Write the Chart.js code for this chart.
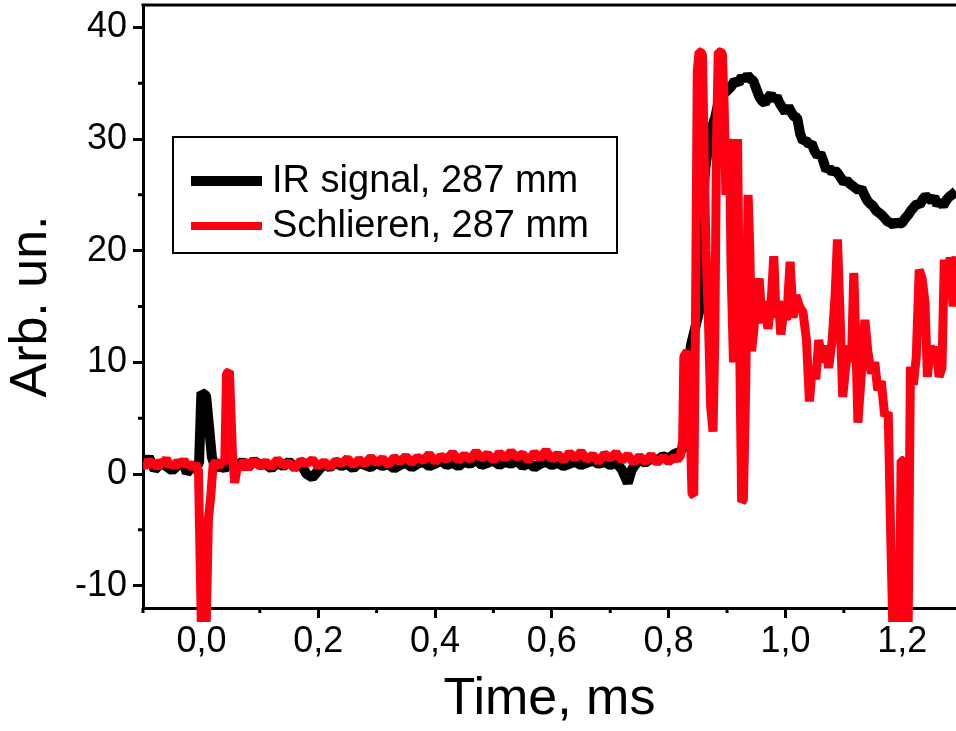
<!DOCTYPE html>
<html>
<head>
<meta charset="utf-8">
<script src="https://cdn.jsdelivr.net/npm/chart.js@4"></script>
<style>
  html, body { margin: 0; padding: 0; background: #fff; }
</style>
</head>
<body>
<canvas id="chart" width="956" height="731"></canvas>
<script>
// === Data ===
const seriesLabels = ["IR signal, 287 mm", "Schlieren, 287 mm"];
const seriesColors = ["#000000", "#ff0012"];

const irTime = [
  -0.1, -0.09, -0.08, -0.07, -0.06, -0.05, -0.04, -0.03, -0.025, -0.02, -0.01, -0.004,
  0.0, 0.008, 0.018, 0.025, 0.03, 0.04, 0.05, 0.06, 0.07, 0.08, 0.09,
  0.10, 0.11, 0.12, 0.13, 0.14, 0.15, 0.16, 0.17, 0.18, 0.19, 0.20, 0.21, 0.22, 0.23, 0.24,
  0.25, 0.26, 0.27, 0.28, 0.29, 0.30, 0.31, 0.32, 0.33, 0.34, 0.35, 0.36, 0.37, 0.38, 0.39,
  0.40, 0.41, 0.42, 0.43, 0.44, 0.45, 0.46, 0.47, 0.48, 0.49, 0.50, 0.51, 0.52, 0.53, 0.54,
  0.55, 0.56, 0.57, 0.58, 0.59, 0.60, 0.61, 0.62, 0.63, 0.64, 0.65, 0.66, 0.67, 0.68, 0.69,
  0.70, 0.71, 0.72, 0.73, 0.737, 0.745, 0.75, 0.76, 0.77, 0.78, 0.79, 0.80, 0.81, 0.82,
  0.828, 0.833, 0.838, 0.845, 0.852, 0.857, 0.862, 0.868, 0.874, 0.88, 0.886, 0.893, 0.90,
  0.907, 0.913, 0.92, 0.925, 0.93, 0.935, 0.94, 0.945, 0.95, 0.955, 0.96, 0.965, 0.97,
  0.975, 0.98, 0.985, 0.99, 0.995, 1.0, 1.005, 1.01, 1.015, 1.02, 1.025, 1.03, 1.035, 1.04,
  1.045, 1.05, 1.055, 1.06, 1.065, 1.07, 1.075, 1.08, 1.085, 1.09, 1.095, 1.10, 1.105, 1.11,
  1.115, 1.12, 1.125, 1.13, 1.135, 1.14, 1.145, 1.15, 1.155, 1.16, 1.165, 1.17, 1.175, 1.18,
  1.185, 1.19, 1.195, 1.20, 1.205, 1.21, 1.215, 1.22, 1.225, 1.23, 1.235, 1.24, 1.245, 1.25,
  1.255, 1.26, 1.265, 1.27, 1.275, 1.28, 1.285, 1.292
];
const irSignal = [
  0.6, 1.5, 0.4, 0.9, 0.7, 0.3, 0.8, 0.9, 0.1, 0.4, 0.6, 1.0,
  7.3, 7.0, 1.5, 0.4, 0.8, 0.5, 1.0, 0.7, 1.1, 0.6, 1.2,
  0.8, 0.9, 0.5, 1.0, 0.7, 1.1, 0.6, 0.9, 0.0, -0.3, 0.3, 0.9, 0.6, 1.0, 0.7,
  0.9, 0.5, 1.0, 0.8, 0.6, 1.0, 0.7, 0.9, 0.5, 0.8, 1.0, 0.6, 0.9, 1.1, 0.7,
  0.9, 1.2, 0.8, 1.0, 0.7, 1.1, 0.9, 1.3, 0.8, 1.0, 1.2, 0.8, 1.1, 0.9, 1.2,
  0.7, 1.0, 0.6, 0.9, 1.1, 0.8, 1.0, 0.7, 0.9, 1.1, 0.8, 1.0, 1.2, 0.9, 1.1,
  0.8, 1.0, 0.4, -0.8, 0.4, 1.0, 1.3, 1.0, 1.4, 1.2, 1.6, 1.4, 1.8, 2.0,
  2.6, 8.0, 11.5, 13.0, 14.5, 22.0, 27.0, 29.5, 31.0, 32.0, 33.5, 34.0, 34.3,
  34.7, 35.2, 35.0, 35.6, 35.3, 35.7, 35.4, 35.2, 34.5, 33.8, 33.4, 33.2, 33.7,
  34.0, 33.5, 33.8, 33.2, 32.8, 32.4, 32.9, 32.4, 32.0, 31.9, 30.5, 29.8, 29.9, 29.5,
  29.6, 28.9, 28.5, 28.7, 28.0, 27.2, 27.4, 27.0, 27.2, 26.9, 26.5, 26.1, 26.3, 26.0,
  25.8, 25.6, 25.4, 25.6, 25.0, 24.5, 24.2, 24.0, 23.6, 23.4, 23.2, 22.9, 22.6, 22.5,
  22.3, 22.6, 22.4, 22.5, 22.9, 23.2, 23.6, 23.9, 24.2, 24.1, 24.6, 24.9, 24.7, 24.5,
  24.8, 24.1, 24.4, 24.0, 24.5, 24.8, 25.0, 25.3
];

const schTime = [
  -0.1, -0.095, -0.09, -0.085, -0.08, -0.075, -0.07, -0.065, -0.06, -0.055, -0.05, -0.045,
  -0.04, -0.035, -0.03, -0.025, -0.02, -0.015, -0.01, -0.005,
  0.0, 0.008, 0.012, 0.016, 0.02, 0.025, 0.03, 0.035, 0.04, 0.043, 0.048, 0.053, 0.057,
  0.062, 0.067, 0.072,
  0.08, 0.09, 0.10, 0.11, 0.12, 0.13, 0.14, 0.15, 0.16, 0.17, 0.18, 0.19, 0.20, 0.21,
  0.22, 0.23, 0.24, 0.25, 0.26, 0.27, 0.28, 0.29, 0.30, 0.31, 0.32, 0.33, 0.34, 0.35,
  0.36, 0.37, 0.38, 0.39, 0.40, 0.41, 0.42, 0.43, 0.44, 0.45, 0.46, 0.47, 0.48, 0.49,
  0.50, 0.51, 0.52, 0.53, 0.54, 0.55, 0.56, 0.57, 0.58, 0.59, 0.60, 0.61, 0.62, 0.63,
  0.64, 0.65, 0.66, 0.67, 0.68, 0.69, 0.70, 0.71, 0.72, 0.73, 0.74, 0.75, 0.76, 0.77,
  0.78, 0.79, 0.80, 0.81, 0.815, 0.82,
  0.824, 0.826, 0.832, 0.836, 0.84, 0.843, 0.846, 0.849, 0.852, 0.855, 0.858, 0.861, 0.864,
  0.868, 0.872, 0.876, 0.879, 0.882, 0.885, 0.889, 0.892, 0.895, 0.898, 0.90, 0.904, 0.907,
  0.911, 0.915, 0.918, 0.921, 0.925, 0.928, 0.932, 0.936, 0.939, 0.942, 0.946, 0.95,
  0.955, 0.96, 0.965, 0.97, 0.975, 0.98, 0.984, 0.988, 0.992, 0.997, 1.002, 1.008,
  1.013, 1.018, 1.024, 1.03, 1.036, 1.041, 1.046, 1.052, 1.057, 1.063, 1.069, 1.074,
  1.08, 1.085, 1.089, 1.093, 1.098, 1.103, 1.108, 1.113, 1.117, 1.121, 1.124, 1.13,
  1.136, 1.141, 1.147, 1.153, 1.158, 1.164, 1.17, 1.176, 1.18, 1.184, 1.19, 1.195,
  1.198, 1.202, 1.205, 1.21, 1.214, 1.219, 1.224, 1.229, 1.234, 1.239, 1.243, 1.248,
  1.253, 1.258, 1.263, 1.268, 1.272, 1.277, 1.282, 1.287, 1.292
];
const schSignal = [
  1.0, 0.6, 1.3, 0.8, 1.1, 0.5, 1.2, 0.9, 1.4, 0.7, 1.0, 0.6,
  1.2, 0.8, 1.3, 0.7, 1.0, 0.5, 0.9, 0.3,
  -14, -14, -4, -2.0, 0.8, 1.1, 0.6, 1.2, 0.9, 9.0, 9.2, 2.0, -0.8,
  0.9, 0.4, 1.2,
  0.5, 1.2, 0.7, 1.1, 0.6, 1.3, 0.8, 1.0, 0.5, 1.2, 0.9, 1.3, 0.7, 1.1,
  0.6, 1.2, 0.9, 1.4, 0.8, 1.3, 0.9, 1.5, 1.0, 1.4, 0.8, 1.5, 1.1, 1.6,
  1.0, 1.5, 1.2, 1.8, 1.1, 1.6, 1.3, 1.9, 1.2, 1.7, 1.3, 2.0, 1.4, 1.8,
  1.2, 1.9, 1.4, 2.0, 1.5, 1.8, 1.2, 1.9, 1.4, 2.1, 1.3, 1.8, 1.2, 1.9,
  1.4, 2.0, 1.3, 1.7, 1.1, 1.8, 1.4, 1.9, 1.2, 1.7, 1.0, 1.6, 1.1, 1.7,
  1.0, 1.5, 1.1, 1.5, 1.3, 1.6,
  3.0, 10.5, 11.0, 6.0, -1.8, -1.9, 14, 36, 37.8, 37.8, 37.5, 28, 20,
  14, 6, 3.8, 12, 30, 37.8, 37.8, 37.6, 33, 25, 29, 30, 18,
  10, 22, 30, 14, -2.5, -2.3, 8, 25, 20, 11, 13, 16,
  17.5, 13.5, 15.5, 13, 15, 19.5, 14, 15.5, 12.5, 14.5, 13.8, 19,
  14, 16, 15, 14.5, 12, 6.5, 9.5, 8.5, 12, 10, 11.5, 9.5,
  12, 16, 21, 15, 6.9, 9.5, 11.5, 10, 18, 11, 4.6, 9,
  13.8, 11, 9, 10, 7.5, 8.3, 5.2, 5.5, -5, -14, -14, -14,
  1.2, 1.2, -14, -14, 9.6, 8, 10.5, 18.3, 17.5, 15.3, 8.7, 11.5,
  10, 11.4, 8.7, 9.5, 19.2, 16, 19.4, 15, 19.5
];

const xTicks = [0.0, 0.2, 0.4, 0.6, 0.8, 1.0, 1.2];
const xMinorTicks = [-0.1, 0.1, 0.3, 0.5, 0.7, 0.9, 1.1];
const yTicks = [-10, 0, 10, 20, 30, 40];
const yMinorTicks = [-5, 5, 15, 25, 35];

const FONT = "'Liberation Sans', Arial, Helvetica, sans-serif";

// === Minor ticks, top frame line and legend box ===
const framePlugin = {
  id: "frame",
  beforeDatasetsDraw(chart) {
    const { ctx, chartArea, scales } = chart;
    ctx.save();
    ctx.strokeStyle = "#000";
    ctx.lineWidth = 3;
    ctx.beginPath();
    ctx.moveTo(chartArea.left - 1.5, chartArea.top);
    ctx.lineTo(chart.width, chartArea.top);
    ctx.stroke();
    ctx.beginPath();
    yMinorTicks.forEach(v => {
      const y = scales.y.getPixelForValue(v);
      ctx.moveTo(chartArea.left - 5, y);
      ctx.lineTo(chartArea.left, y);
    });
    xMinorTicks.forEach(v => {
      const x = scales.x.getPixelForValue(v);
      ctx.moveTo(x, chartArea.bottom);
      ctx.lineTo(x, chartArea.bottom + 5);
    });
    ctx.stroke();
    ctx.restore();
  },
  afterDraw(chart) {
    const ctx = chart.ctx;
    ctx.save();
    ctx.fillStyle = "#fff";
    ctx.fillRect(173, 137, 444, 116);
    ctx.strokeStyle = "#000";
    ctx.lineWidth = 2;
    ctx.strokeRect(173, 137, 444, 116);
    const rows = [181, 226];
    const widths = [10, 8];
    ctx.font = "38px " + FONT;
    ctx.textBaseline = "alphabetic";
    ctx.textAlign = "left";
    seriesLabels.forEach((label, i) => {
      ctx.strokeStyle = seriesColors[i];
      ctx.lineWidth = widths[i];
      ctx.beginPath();
      ctx.moveTo(191, rows[i]);
      ctx.lineTo(262, rows[i]);
      ctx.stroke();
      ctx.fillStyle = "#000";
      ctx.fillText(label, 272, rows[i] + 11);
    });
    ctx.restore();
  }
};

// === Chart ===
const ctx = document.getElementById("chart").getContext("2d");
new Chart(ctx, {
  type: "line",
  data: {
    datasets: [
      {
        label: seriesLabels[0],
        data: irTime.map((t, i) => ({ x: t, y: irSignal[i] })),
        borderColor: seriesColors[0],
        borderWidth: 10,
        borderJoinStyle: "bevel",
        pointRadius: 0,
        tension: 0,
        order: 2,
        clip: { left: 0, top: 0, right: 0, bottom: 14 }
      },
      {
        label: seriesLabels[1],
        data: schTime.map((t, i) => ({ x: t, y: schSignal[i] })),
        borderColor: seriesColors[1],
        borderWidth: 9,
        borderJoinStyle: "bevel",
        pointRadius: 0,
        tension: 0,
        order: 1,
        clip: { left: 0, top: 0, right: 0, bottom: 14 }
      }
    ]
  },
  options: {
    responsive: false,
    animation: false,
    events: [],
    layout: { padding: { top: 5, right: 0, bottom: 0, left: 0 }, autoPadding: false },
    plugins: { legend: { display: false }, tooltip: { enabled: false } },
    scales: {
      x: {
        type: "linear",
        min: -0.1,
        max: 1.292,
        afterBuildTicks: s => { s.ticks = xTicks.map(v => ({ value: v })); },
        afterFit: s => {
          s.height = 123;
          s.paddingLeft = 0; s.paddingRight = 0; s.paddingTop = 0; s.paddingBottom = 0;
        },
        border: { display: true, color: "#000", width: 3 },
        grid: { drawOnChartArea: false, drawTicks: true, tickLength: 10, tickWidth: 3, tickColor: "#000" },
        ticks: {
          color: "#000",
          font: { family: FONT, size: 36 },
          padding: 2,
          maxRotation: 0,
          autoSkip: false,
          callback: v => Number(v).toFixed(1).replace(".", ",")
        },
        title: {
          display: true,
          text: "Time, ms",
          color: "#000",
          font: { family: FONT, size: 52 },
          padding: { top: 0, bottom: 0 }
        }
      },
      y: {
        type: "linear",
        min: -12,
        max: 42,
        afterBuildTicks: s => { s.ticks = yTicks.map(v => ({ value: v })); },
        afterFit: s => {
          s.width = 143;
          s.paddingLeft = 0; s.paddingRight = 0; s.paddingTop = 0; s.paddingBottom = 0;
        },
        border: { display: true, color: "#000", width: 3 },
        grid: { drawOnChartArea: false, drawTicks: true, tickLength: 10, tickWidth: 3, tickColor: "#000" },
        ticks: {
          color: "#000",
          font: { family: FONT, size: 36 },
          padding: 6,
          autoSkip: false,
          callback: v => String(v)
        },
        title: {
          display: true,
          text: "Arb. un.",
          color: "#000",
          font: { family: FONT, size: 52 },
          padding: { top: 0, bottom: 0 }
        }
      }
    }
  },
  plugins: [framePlugin]
});
</script>
</body>
</html>
